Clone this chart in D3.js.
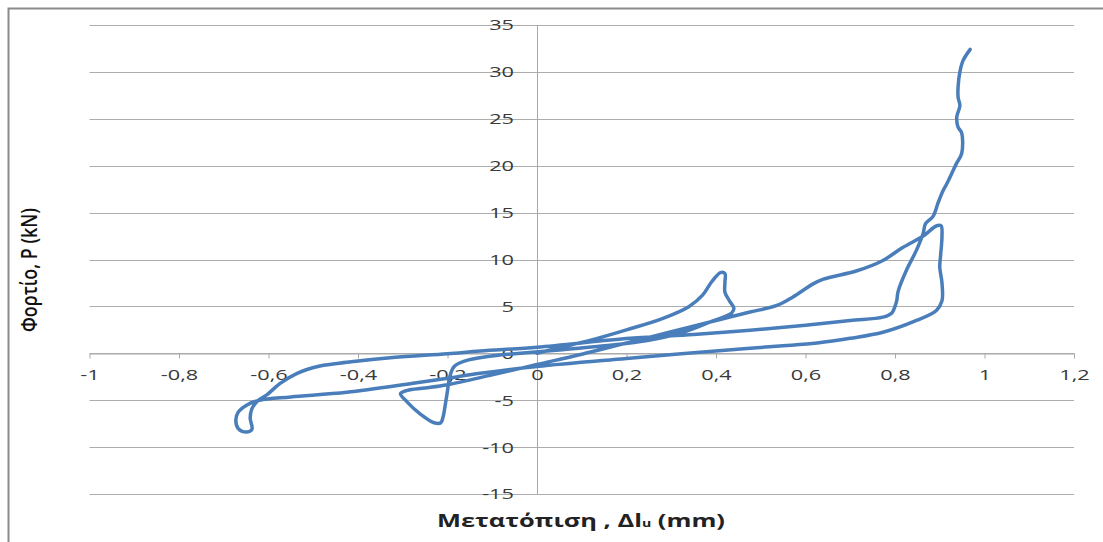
<!DOCTYPE html>
<html>
<head>
<meta charset="utf-8">
<script src="https://cdn.jsdelivr.net/npm/d3@7"></script>
<style>
  body { margin: 0; background: #fff; }
  text { font-family: "Open Sans", sans-serif; }
</style>
</head>
<body>
<svg></svg>
<script>
// displacement (mm) and load (kN), in test order
const disp = [
  0, 0.05, 0.12, 0.2, 0.28, 0.34, 0.37, 0.39, 0.41, 0.42, 0.42, 0.42, 0.43, 0.44, 0.435,
  0.39, 0.33, 0.25, 0.15, 0.05, -0.05, -0.11, -0.16, -0.185, -0.195, -0.2, -0.205, -0.21, -0.215, -0.23,
  -0.26, -0.29, -0.305, -0.29, -0.25, -0.2,
  -0.1, 0, 0.1, 0.2, 0.3, 0.4, 0.476, 0.536, 0.572, 0.617, 0.64, 0.715, 0.773, 0.818, 0.863, 0.893,
  0.903, 0.905, 0.902, 0.9, 0.905, 0.905, 0.893,
  0.848, 0.773, 0.7, 0.626, 0.55, 0.476, 0.2, 0, -0.127, -0.2, -0.277, -0.425, -0.55, -0.62,
  -0.648, -0.668, -0.673, -0.668, -0.65, -0.637, -0.641, -0.637, -0.625,
  -0.603, -0.574, -0.536, -0.485, -0.425, -0.322, -0.2, -0.127, 0, 0.208, 0.35, 0.476, 0.6, 0.7, 0.773,
  0.793, 0.8, 0.804, 0.807, 0.826, 0.848, 0.863, 0.868, 0.885, 0.896, 0.905, 0.916, 0.927, 0.938, 0.949,
  0.949, 0.941, 0.938, 0.945, 0.941, 0.941, 0.945, 0.952, 0.968
];
const load = [
  0, 0.6, 1.4, 2.5, 3.7, 5.0, 6.2, 7.6, 8.6, 8.5, 7.6, 6.5, 5.6, 4.8, 4.3,
  3.4, 2.3, 1.4, 0.8, 0.35, -0.05, -0.35, -0.8, -1.4, -2.5, -4.0, -5.5, -6.8, -7.4, -7.4,
  -6.5, -5.2, -4.3, -3.95, -3.7, -3.35,
  -2.3, -1.2, -0.1, 1.1, 2.3, 3.5, 4.4, 5.1, 6.0, 7.4, 7.9, 8.8, 9.9, 11.3, 12.5, 13.6,
  13.6, 12.5, 10.5, 9.2, 7.5, 5.6, 4.6,
  3.5, 2.24, 1.6, 1.1, 0.8, 0.55, -0.55, -1.4, -2.13, -2.67, -3.2, -4.16, -4.65, -5.0,
  -5.5, -6.3, -7.1, -8.0, -8.4, -8.1, -6.9, -5.9, -5.1,
  -4.4, -3.2, -2.13, -1.35, -0.96, -0.45, -0.05, 0.25, 0.65, 1.6, 2.0, 2.45, 3.0, 3.5, 3.85,
  4.3, 5.0, 5.65, 6.6, 8.9, 11.0, 12.8, 13.8, 14.6, 16.0, 17.1, 18.1, 19.2, 20.3, 21.3,
  23.5, 24.1, 25.2, 26.4, 27.3, 28.4, 30.0, 31.2, 32.4
];

const xTicks = [-1, -0.8, -0.6, -0.4, -0.2, 0, 0.2, 0.4, 0.6, 0.8, 1, 1.2];
const xTickLabels = ["-1", "-0,8", "-0,6", "-0,4", "-0,2", "0", "0,2", "0,4", "0,6", "0,8", "1", "1,2"];
const yTicks = [-15, -10, -5, 0, 5, 10, 15, 20, 25, 30, 35];
const yTickLabels = ["-15", "-10", "-5", "0", "5", "10", "15", "20", "25", "30", "35"];

const points = disp.map((d, i) => ({ x: d, y: load[i] }));

const width = 1103, height = 542;
const stretch = 1.45; // the picture is widened horizontally

const svg = d3.select("svg").attr("width", width).attr("height", height);

// chart frame (right and bottom edges fall outside the picture)
svg.append("rect")
  .attr("x", 8.5).attr("y", 8.5)
  .attr("width", 1200).attr("height", 800)
  .attr("fill", "none")
  .attr("stroke", "#8a8a8a")
  .attr("stroke-width", 2);

const x = d3.scaleLinear().domain([-1, 1.2]).range([89.5, 1074]);
const y = d3.scaleLinear().domain([-15, 35]).range([494, 25]);

// horizontal gridlines
svg.append("g")
  .selectAll("line")
  .data(yTicks)
  .enter()
  .append("line")
  .attr("x1", x(-1)).attr("x2", x(1.2))
  .attr("y1", d => Math.round(y(d)) + 0.5)
  .attr("y2", d => Math.round(y(d)) + 0.5)
  .attr("stroke", "#adadad");

// y axis line
svg.append("line")
  .attr("x1", Math.round(x(0)) + 0.5).attr("x2", Math.round(x(0)) + 0.5)
  .attr("y1", y(35)).attr("y2", y(-15))
  .attr("stroke", "#a8a8a8");

// x axis through zero
const xAxis = d3.axisBottom(x)
  .tickValues(xTicks)
  .tickSize(5)
  .tickSizeOuter(0)
  .tickPadding(11)
  .tickFormat((d, i) => xTickLabels[i]);

const gx = svg.append("g")
  .attr("transform", `translate(0, ${Math.round(y(0)) + 0.5})`)
  .call(xAxis);
gx.select(".domain").attr("stroke", "#a8a8a8");
gx.selectAll(".tick line").attr("stroke", "#a8a8a8");
gx.selectAll(".tick text")
  .attr("font-family", "Open Sans")
  .attr("font-size", 15)
  .attr("fill", "#3a3a3a")
  .attr("transform", `scale(${stretch},1)`);

// y tick labels, sitting on the gridlines
svg.append("g")
  .selectAll("text")
  .data(yTicks)
  .enter()
  .append("text")
  .attr("transform", d => `translate(514, ${y(d)}) scale(${stretch},1)`)
  .attr("text-anchor", "end")
  .attr("dy", "0.36em")
  .attr("font-size", 15)
  .attr("fill", "#3a3a3a")
  .text((d, i) => yTickLabels[i]);

// the curve
const line = d3.line()
  .x(d => x(d.x))
  .y(d => y(d.y))
  .curve(d3.curveCatmullRom.alpha(0.5));

svg.append("path")
  .datum(points)
  .attr("d", line)
  .attr("fill", "none")
  .attr("stroke", "#4a7ebb")
  .attr("stroke-width", 3.5)
  .attr("stroke-linejoin", "round")
  .attr("stroke-linecap", "round");

// x axis title
const xTitle = svg.append("text")
  .attr("text-anchor", "middle")
  .attr("font-size", 18)
  .attr("font-weight", "bold")
  .attr("fill", "#222");
xTitle.append("tspan").text("Μετατόπιση , Δl");
xTitle.append("tspan").attr("font-size", 10).text("u");
xTitle.append("tspan").text(" (mm)");
const xw = xTitle.node().getComputedTextLength();
xTitle.attr("transform", `translate(581, 527) scale(${288 / xw},1)`);

// y axis title
const yTitle = svg.append("text")
  .attr("text-anchor", "middle")
  .attr("font-size", 16)
  .attr("font-weight", 600)
  .attr("fill", "#111")
  .text("Φορτίο, P (kN)");
const yw = yTitle.node().getComputedTextLength();
yTitle.attr("transform", `translate(37, 270) rotate(-90) scale(${124 / yw},1.4)`);
</script>
</body>
</html>
